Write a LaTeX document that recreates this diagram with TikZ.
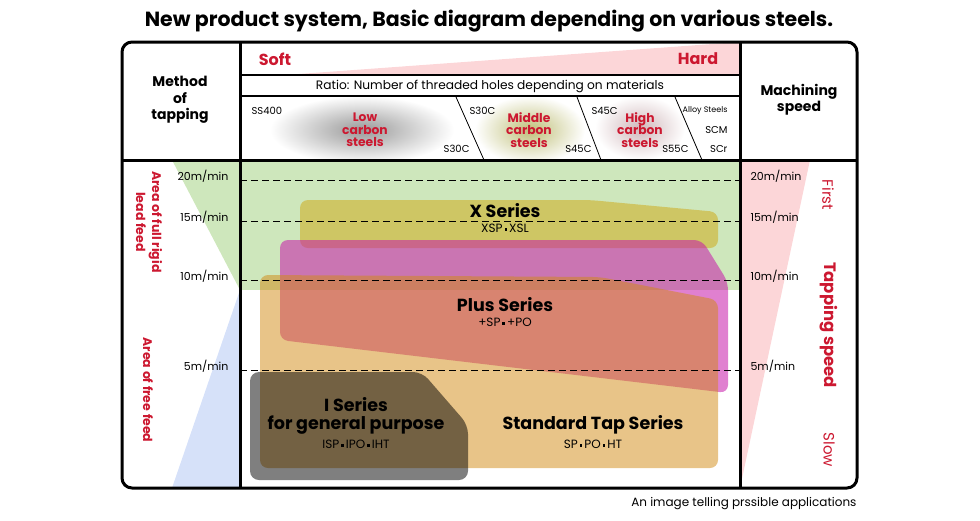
\documentclass[tikz,border=0pt]{standalone}
\usepackage{fontspec}
\setmainfont{Poppins}
\usetikzlibrary{positioning}
\definecolor{hdred}{RGB}{204,24,48}
\definecolor{rigidgreen}{RGB}{206,231,188}
\definecolor{freeblue}{RGB}{214,225,249}
\definecolor{speedpink}{RGB}{252,214,216}
\definecolor{xolive}{RGB}{207,184,64}
\definecolor{plusmag}{RGB}{199,24,170}
\definecolor{stdtan}{RGB}{209,137,17}
\newcommand\sqsep{\,\raisebox{.32ex}{\rule{.22em}{.22em}}\,}
\newcommand\fsz[1]{\fontsize{#1}{1.2\dimexpr#1pt\relax}\selectfont}

\begin{document}
\begin{tikzpicture}[x=1pt,y=-1pt,
  spd/.style={font=\fsz{11}},
  grade/.style={font=\fsz{10}},
  steelname/.style={text=hdred,font=\bfseries\fontsize{12.3}{12.5}\selectfont,align=center},
  colhead/.style={font=\bfseries\fontsize{14}{16.5}\selectfont,align=center},
  sername/.style={font=\bfseries\fontsize{17.5}{18}\selectfont,align=center},
  sercode/.style={font=\fsz{12}},
  guide/.style={dash pattern=on 7pt off 4pt,line width=.8pt},
  bigline/.style={line width=3pt}]
\useasboundingbox (0,0) rectangle (980,520);
% --- title ---
\node[font=\bfseries\fsz{20.5}] (title) at (489,21) {New product system, Basic diagram depending on various steels.};
% --- coloured areas ---
\fill[speedpink] (285,75) -- (740,42) -- (740,75) -- cycle;
\fill[rigidgreen] (240,160) rectangle (740,290);
\fill[rigidgreen] (172,160) -- (240,160) -- (240,290) -- cycle;
\fill[freeblue] (240,290) -- (240,488) -- (172,488) -- cycle;
\fill[speedpink] (740,160) -- (810,160) -- (740,488) -- cycle;
% --- glows behind the steel groups ---
\begin{scope}
\clip (240,97) rectangle (740,160);
\shade[inner color=black!40,outer color=white] (362,130) ellipse (92 and 34);
\shade[inner color=olive!55!gray!50,outer color=white] (530,130) ellipse (55 and 34);
\shade[inner color=hdred!30!gray!45,outer color=white] (640,128) ellipse (45 and 32);
\end{scope}
% --- the tap series ---
\fill[xolive,opacity=.7,rounded corners=8pt] (300,200) -- (590,200) -- (718,212) -- (718,248) -- (300,248) -- cycle;
\fill[plusmag,opacity=.55,rounded corners=8pt] (280,240) -- (702,240) -- (728,282) -- (728,393) -- (280,340) -- cycle;
\fill[stdtan,opacity=.5,rounded corners=8pt] (260,275) -- (600,277) -- (718,300) -- (718,468) -- (260,468) -- cycle;
\fill[black,opacity=.5,rounded corners=9pt] (250,372) -- (422,372) -- (468,425) -- (468,480) -- (250,480) -- cycle;
% --- speed guides ---
\foreach \y/\v in {180/20,221/15,280/10,370/5}
 {\draw[guide] (240,\y) -- (740,\y);
  \node[spd,anchor=east] (l\v) at (232,\y-4) {\v m/min};
  \node[spd,anchor=west] (r\v) at (747,\y-4) {\v m/min};}
% --- frame ---
\draw[bigline,rounded corners=10pt] (122,42) rectangle (857,488);
\draw[bigline] (240,42) -- (240,488);
\draw[bigline] (740,42) -- (740,488);
\draw[bigline] (122,160) -- (857,160);
\draw[line width=1.5pt] (240,75) -- (740,75);
\draw[line width=2pt] (240,96) -- (740,96);
\draw[line width=.8pt] (456,97) -- (484,160);
\draw[line width=.8pt] (577,97) -- (601,160);
\draw[line width=.8pt] (675,97) -- (702,160);
% --- headings ---
\node[colhead] (method) at (180,100) {Method\\of\\tapping};
\node[colhead] (machining) at (799,100) {Machining\\speed};
\node[text=hdred,font=\bfseries\fsz{16}] (soft) at (275,59) {Soft};
\node[text=hdred,font=\bfseries\fsz{16}] (hard) at (698,59) {Hard};
\node[font=\fsz{12.2}] (ratio) at (490,86) {Ratio: Number of threaded holes depending on materials};
% --- steel grades ---
\node[grade,anchor=west] (ss400) at (248,111) {SS400};
\node[steelname] (low) at (365,130) {Low\\carbon\\steels};
\node[grade,anchor=west] (s30a) at (466,111) {S30C};
\node[grade,anchor=east] (s30b) at (473,149) {S30C};
\node[steelname] (middle) at (529,130) {Middle\\carbon\\steels};
\node[grade,anchor=west] (s45a) at (588,111) {S45C};
\node[grade,anchor=east] (s45b) at (595,149) {S45C};
\node[steelname] (high) at (640,130) {High\\carbon\\steels};
\node[grade,anchor=east] (s55) at (692,149) {S55C};
\node[font=\fsz{8},anchor=east] (alloy) at (731,111) {Alloy Steels};
\node[grade,anchor=east] (scm) at (731,130) {SCM};
\node[grade,anchor=east] (scr) at (731,149) {SCr};
% --- side labels ---
\node[text=hdred,font=\bfseries\fontsize{12.5}{16}\selectfont,align=center,rotate=-90] (rigid) at (149,222) {Area of full rigid\\lead feed};
\node[text=hdred,font=\bfseries\fsz{12.5},rotate=-90] (freefeed) at (148,390) {Area of free feed};
\node[text=hdred,font=\fsz{15},rotate=-90] (first) at (828,195) {First};
\node[text=hdred,font=\bfseries\fsz{16.5},rotate=-90] (tapspeed) at (829,325) {Tapping speed};
\node[text=hdred,font=\fsz{15},rotate=-90] (slow) at (829,450) {Slow};
% --- series names ---
\node[sername] (xname) at (505,211) {X Series};
\node[sercode,below=-1pt of xname] (xcode) {XSP\sqsep XSL};
\node[sername] (plusname) at (505,305) {Plus Series};
\node[sercode,below=-1pt of plusname] (pluscode) {+SP\sqsep +PO};
\node[sername] (iname) at (356,416) {I Series\\for general purpose};
\node[sercode,below=-1pt of iname] (icode) {ISP\sqsep IPO\sqsep IHT};
\node[sername] (stdname) at (593,425) {Standard Tap Series};
\node[sercode,below=-1pt of stdname] (stdcode) {SP\sqsep PO\sqsep HT};
% --- caption ---
\node[font=\fsz{12},anchor=east] (caption) at (860,504) {An image telling prssible applications};
\end{tikzpicture}
\end{document}
